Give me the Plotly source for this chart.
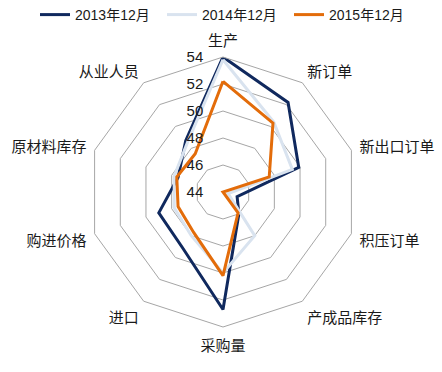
import plotly.graph_objects as go

categories = ["生产", "新订单", "新出口订单", "积压订单", "产成品库存",
              "采购量", "进口", "购进价格", "原材料库存", "从业人员"]
series_names = ["2013年12月", "2014年12月", "2015年12月"]
values_2013 = [54.0, 52.2, 49.9, 45.1, 46.0, 52.7, 49.1, 49.0, 47.5, 48.7]
values_2014 = [53.8, 50.4, 49.4, 44.4, 48.0, 50.0, 48.0, 47.8, 47.8, 48.5]
values_2015 = [52.2, 50.3, 47.6, 43.6, 45.9, 50.2, 47.7, 47.5, 47.6, 47.5]
radial_ticks = [44, 46, 48, 50, 52, 54]

colors = ["#10295E", "#D9E3EF", "#E36C0A"]
all_values = [values_2013, values_2014, values_2015]

font_family = "Arial, 'Liberation Sans', 'Noto Sans CJK SC', sans-serif"

fig = go.Figure()
for name, vals, col in zip(series_names, all_values, colors):
    fig.add_trace(go.Scatterpolar(
        r=vals + vals[:1],
        theta=categories + categories[:1],
        mode="lines",
        name=name,
        line=dict(color=col, width=3),
    ))

W, H = 442, 372
cx, cy, R = 223, 192, 135
fig.update_layout(
    width=W, height=H,
    margin=dict(l=0, r=0, t=0, b=0, autoexpand=False),
    paper_bgcolor="white",
    plot_bgcolor="white",
    font=dict(family=font_family, size=15, color="#1a1a1a"),
    showlegend=True,
    legend=dict(orientation="h", x=225.5 / W, xanchor="center",
                y=1 + 1 / H, yanchor="top",
                font=dict(size=14, color="#1a1a1a"), itemwidth=30,
                entrywidth=82, entrywidthmode="pixels",
                bgcolor="rgba(0,0,0,0)"),
    polar=dict(
        domain=dict(x=[(cx - R) / W, (cx + R) / W],
                    y=[1 - (cy + R) / H, 1 - (cy - R) / H]),
        bgcolor="white",
        gridshape="linear",
        radialaxis=dict(
            range=[44, 54],
            tickvals=radial_ticks,
            ticktext=[str(t) for t in radial_ticks],
            angle=90,
            tickangle=90,
            side="counterclockwise",
            showline=False,
            showgrid=True,
            gridcolor="#A6A6A6",
            gridwidth=1,
            ticks="outside",
            ticklen=14,
            tickcolor="rgba(0,0,0,0)",
            tickfont=dict(size=15, color="#1a1a1a"),
        ),
        angularaxis=dict(
            direction="clockwise",
            rotation=90,
            showgrid=False,
            showline=True,
            linecolor="#A6A6A6",
            linewidth=1,
            ticks="outside",
            ticklen=5,
            tickcolor="rgba(0,0,0,0)",
            tickfont=dict(size=15, color="#1a1a1a"),
        ),
    ),
)

fig.write_html("out.html",
               config={"displayModeBar": False},
               post_script="document.body.style.margin='0';document.body.style.overflow='hidden';")
